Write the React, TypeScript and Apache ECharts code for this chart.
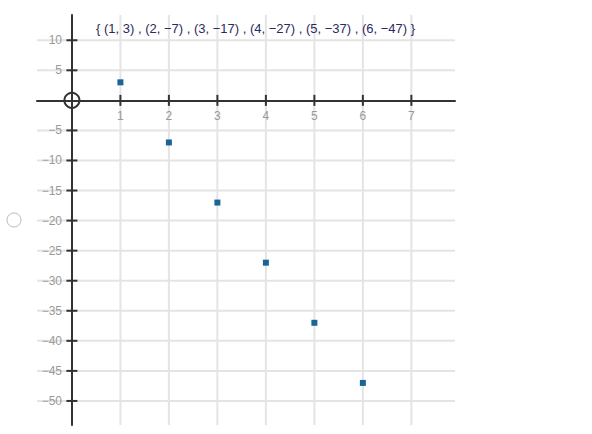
import React, { useEffect, useRef } from "react";
import * as echarts from "echarts";

const xValues = [1, 2, 3, 4, 5, 6];
const yValues = [3, -7, -17, -27, -37, -47];
const xTicks = [1, 2, 3, 4, 5, 6, 7];
const yTicks = [-50, -45, -40, -35, -30, -25, -20, -15, -10, -5, 5, 10];
const xRange = [-0.72, 7.9];
const yRange = [-54, 14.2];

const minus = (v: number) => String(v).replace("-", "\u2212");
const FONT = "Liberation Sans, Arial, sans-serif";

export default function App() {
  const ref = useRef<HTMLDivElement>(null);
  useEffect(() => {
    if (!ref.current) return;
    const chart = echarts.init(ref.current, null, { renderer: "svg" });
    const pts = xValues.map((x, i) => [x, yValues[i]]);
    const setText =
      "{ " + pts.map((p) => `(${minus(p[0])}, ${minus(p[1])})`).join(" , ") + " }";

    chart.setOption({
      animation: false,
      backgroundColor: "#ffffff",
      textStyle: { fontFamily: FONT },
      title: {
        text: setText,
        left: 96,
        top: 22,
        padding: 0,
        textStyle: { fontSize: 13, fontWeight: "normal", color: "#2b2a5e", fontFamily: FONT },
      },
      grid: { left: 37, right: 137, top: 15, bottom: 9, containLabel: false },
      xAxis: {
        type: "value",
        min: xRange[0],
        max: xRange[1],
        axisLine: { onZero: true, lineStyle: { color: "#333333", width: 2 } },
        axisTick: { show: false },
        splitLine: { show: false },
        axisLabel: {
          customValues: xTicks,
          color: "#999999",
          fontSize: 12,
          margin: -315,
          verticalAlign: "top",
          formatter: (v: number) => minus(v),
        },
      },
      yAxis: {
        type: "value",
        min: yRange[0],
        max: yRange[1],
        axisLine: { onZero: true, lineStyle: { color: "#333333", width: 2 } },
        axisTick: { show: false },
        splitLine: { show: false },
        axisLabel: {
          customValues: yTicks,
          color: "#999999",
          fontSize: 12,
          margin: -25,
          align: "right",
          formatter: (v: number) => minus(v),
        },
      },
      graphic: [
        {
          type: "circle",
          shape: { cx: 14, cy: 220, r: 7 },
          style: { fill: "#ffffff", stroke: "#bbbbbb", lineWidth: 1 },
        },
      ],
      series: [
        {
          type: "custom",
          z: -1,
          silent: true,
          data: [[0, 0]],
          renderItem: (params: any, api: any) => {
            const children: any[] = [];
            xTicks.forEach((x) => {
              const a = api.coord([x, yRange[1]]);
              const b = api.coord([x, yRange[0]]);
              children.push({
                type: "line",
                shape: { x1: a[0], y1: a[1], x2: b[0], y2: b[1] },
                style: { stroke: "#e4e4e4", lineWidth: 2 },
              });
            });
            yTicks.forEach((y) => {
              const a = api.coord([xRange[0], y]);
              const b = api.coord([xRange[1], y]);
              children.push({
                type: "line",
                shape: { x1: a[0], y1: a[1], x2: b[0], y2: b[1] },
                style: { stroke: "#e4e4e4", lineWidth: 2 },
              });
            });
            return { type: "group", children };
          },
        },
        {
          type: "custom",
          z: 5,
          silent: true,
          data: [[0, 0]],
          renderItem: (params: any, api: any) => {
            const children: any[] = [];
            xTicks.forEach((x) => {
              const c = api.coord([x, 0]);
              children.push({
                type: "line",
                shape: { x1: c[0], y1: c[1] - 5.5, x2: c[0], y2: c[1] + 5.5 },
                style: { stroke: "#333333", lineWidth: 2 },
              });
            });
            yTicks.forEach((y) => {
              const c = api.coord([0, y]);
              children.push({
                type: "line",
                shape: { x1: c[0] - 5.5, y1: c[1], x2: c[0] + 5.5, y2: c[1] },
                style: { stroke: "#333333", lineWidth: 2 },
              });
            });
            const o = api.coord([0, 0]);
            children.push({
              type: "circle",
              shape: { cx: o[0], cy: o[1], r: 7.5 },
              style: { fill: "none", stroke: "#333333", lineWidth: 2 },
            });
            return { type: "group", children };
          },
        },
        {
          type: "scatter",
          z: 6,
          data: pts,
          symbol: "rect",
          symbolSize: 6,
          itemStyle: { color: "#1a6496", opacity: 1 },
        },
      ],
    });
    return () => chart.dispose();
  }, []);
  return (
    <div
      ref={ref}
      style={{ position: "fixed", left: 0, top: 0, width: 592, height: 434 }}
    />
  );
}
